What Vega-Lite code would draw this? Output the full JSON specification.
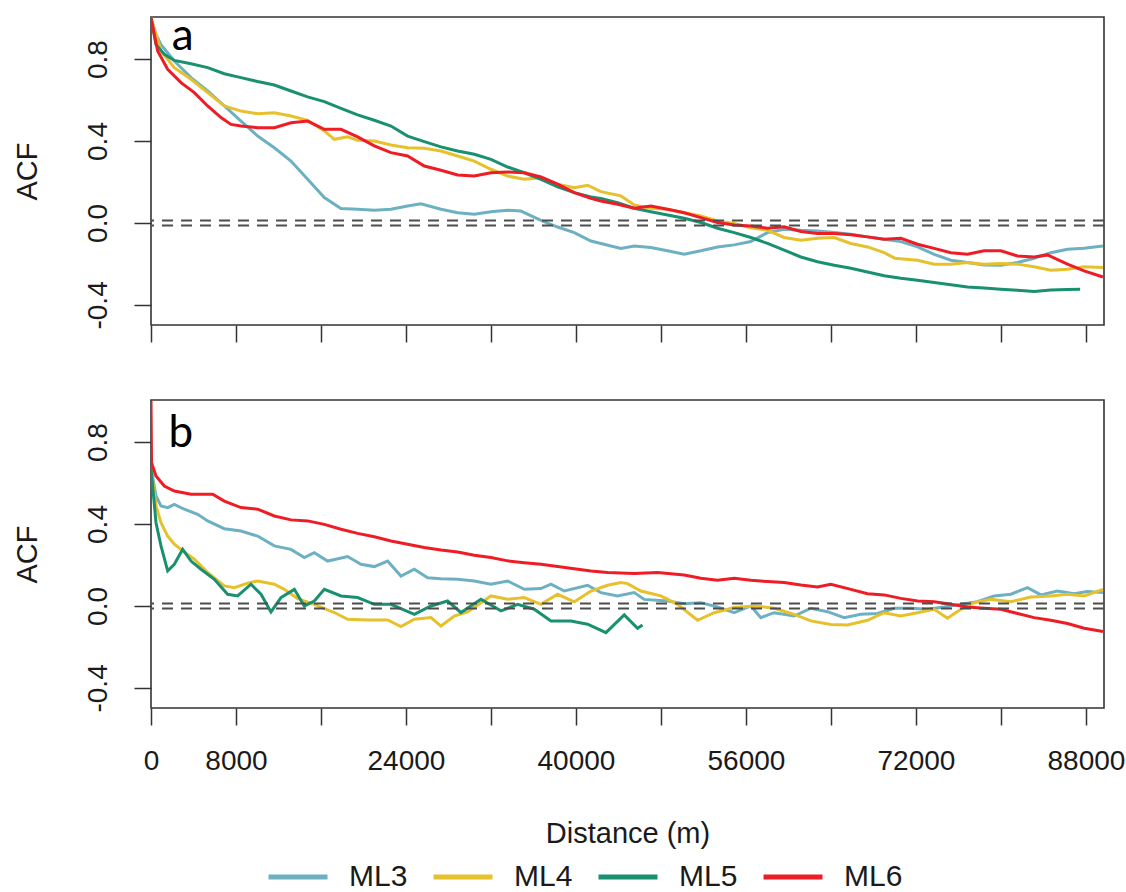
{
  "$schema": "https://vega.github.io/schema/vega-lite/v6.json",
  "background": "white",
  "padding": {"left": 12, "top": 14, "right": 10, "bottom": 5},
  "spacing": 55,
  "config": {
    "font": "Liberation Sans",
    "view": {"stroke": "#333", "strokeWidth": 1.6},
    "axis": {"grid": false, "domain": false, "tickColor": "#333", "tickWidth": 1.5, "tickSize": 17, "labelFontSize": 28, "labelColor": "#1a1a1a", "titleFontSize": 29, "titleFontWeight": "normal", "titleColor": "#1a1a1a", "labelFlush": false, "labelOverlap": false}
  },
  "datasets": {
    "ci": [
      {"panel": "a", "acf": 0.012}, {"panel": "a", "acf": -0.012},
      {"panel": "b", "acf": 0.012}, {"panel": "b", "acf": -0.012}
    ],
    "tags": [
      {"panel": "a", "distance": 2983, "acf": 0.842, "tag": "a"},
      {"panel": "b", "distance": 2795, "acf": 0.777, "tag": "b"}
    ],
    "acf": [
      {"panel":"a","series":"ML3","distance":0,"acf":1.0},{"panel":"a","series":"ML3","distance":470,"acf":0.92},{"panel":"a","series":"ML3","distance":941,"acf":0.87},{"panel":"a","series":"ML3","distance":2196,"acf":0.79},{"panel":"a","series":"ML3","distance":3765,"acf":0.709},{"panel":"a","series":"ML3","distance":5333,"acf":0.644},{"panel":"a","series":"ML3","distance":6902,"acf":0.571},{"panel":"a","series":"ML3","distance":8470,"acf":0.497},{"panel":"a","series":"ML3","distance":10039,"acf":0.424},{"panel":"a","series":"ML3","distance":11607,"acf":0.367},{"panel":"a","series":"ML3","distance":13176,"acf":0.302},{"panel":"a","series":"ML3","distance":14744,"acf":0.213},{"panel":"a","series":"ML3","distance":16313,"acf":0.124},{"panel":"a","series":"ML3","distance":17881,"acf":0.071},{"panel":"a","series":"ML3","distance":19450,"acf":0.067},{"panel":"a","series":"ML3","distance":21018,"acf":0.062},{"panel":"a","series":"ML3","distance":22587,"acf":0.067},{"panel":"a","series":"ML3","distance":24155,"acf":0.083},{"panel":"a","series":"ML3","distance":25410,"acf":0.094},{"panel":"a","series":"ML3","distance":27292,"acf":0.067},{"panel":"a","series":"ML3","distance":28861,"acf":0.05},{"panel":"a","series":"ML3","distance":30429,"acf":0.042},{"panel":"a","series":"ML3","distance":31998,"acf":0.055},{"panel":"a","series":"ML3","distance":33566,"acf":0.062},{"panel":"a","series":"ML3","distance":34821,"acf":0.058},{"panel":"a","series":"ML3","distance":36703,"acf":0.013},{"panel":"a","series":"ML3","distance":38272,"acf":-0.02},{"panel":"a","series":"ML3","distance":39840,"acf":-0.047},{"panel":"a","series":"ML3","distance":41409,"acf":-0.088},{"panel":"a","series":"ML3","distance":42345,"acf":-0.1},{"panel":"a","series":"ML3","distance":44227,"acf":-0.124},{"panel":"a","series":"ML3","distance":45482,"acf":-0.112},{"panel":"a","series":"ML3","distance":47051,"acf":-0.12},{"panel":"a","series":"ML3","distance":48619,"acf":-0.136},{"panel":"a","series":"ML3","distance":50188,"acf":-0.153},{"panel":"a","series":"ML3","distance":51756,"acf":-0.136},{"panel":"a","series":"ML3","distance":53325,"acf":-0.117},{"panel":"a","series":"ML3","distance":54893,"acf":-0.107},{"panel":"a","series":"ML3","distance":56462,"acf":-0.091},{"panel":"a","series":"ML3","distance":58030,"acf":-0.047},{"panel":"a","series":"ML3","distance":59599,"acf":-0.031},{"panel":"a","series":"ML3","distance":61167,"acf":-0.036},{"panel":"a","series":"ML3","distance":62736,"acf":-0.039},{"panel":"a","series":"ML3","distance":64304,"acf":-0.047},{"panel":"a","series":"ML3","distance":65873,"acf":-0.055},{"panel":"a","series":"ML3","distance":67441,"acf":-0.068},{"panel":"a","series":"ML3","distance":69010,"acf":-0.08},{"panel":"a","series":"ML3","distance":70578,"acf":-0.091},{"panel":"a","series":"ML3","distance":72147,"acf":-0.117},{"panel":"a","series":"ML3","distance":73715,"acf":-0.153},{"panel":"a","series":"ML3","distance":75284,"acf":-0.182},{"panel":"a","series":"ML3","distance":76852,"acf":-0.193},{"panel":"a","series":"ML3","distance":78421,"acf":-0.205},{"panel":"a","series":"ML3","distance":79989,"acf":-0.206},{"panel":"a","series":"ML3","distance":81558,"acf":-0.193},{"panel":"a","series":"ML3","distance":83126,"acf":-0.172},{"panel":"a","series":"ML3","distance":84695,"acf":-0.145},{"panel":"a","series":"ML3","distance":86263,"acf":-0.128},{"panel":"a","series":"ML3","distance":87832,"acf":-0.124},{"panel":"a","series":"ML3","distance":89600,"acf":-0.112},
      {"panel":"a","series":"ML4","distance":0,"acf":1.0},{"panel":"a","series":"ML4","distance":941,"acf":0.839},{"panel":"a","series":"ML4","distance":2196,"acf":0.758},{"panel":"a","series":"ML4","distance":3765,"acf":0.701},{"panel":"a","series":"ML4","distance":5333,"acf":0.636},{"panel":"a","series":"ML4","distance":6902,"acf":0.571},{"panel":"a","series":"ML4","distance":8470,"acf":0.546},{"panel":"a","series":"ML4","distance":10039,"acf":0.533},{"panel":"a","series":"ML4","distance":11607,"acf":0.538},{"panel":"a","series":"ML4","distance":13176,"acf":0.522},{"panel":"a","series":"ML4","distance":14744,"acf":0.501},{"panel":"a","series":"ML4","distance":16313,"acf":0.449},{"panel":"a","series":"ML4","distance":17254,"acf":0.408},{"panel":"a","series":"ML4","distance":18509,"acf":0.42},{"panel":"a","series":"ML4","distance":19450,"acf":0.403},{"panel":"a","series":"ML4","distance":21018,"acf":0.4},{"panel":"a","series":"ML4","distance":22587,"acf":0.38},{"panel":"a","series":"ML4","distance":24155,"acf":0.367},{"panel":"a","series":"ML4","distance":25724,"acf":0.364},{"panel":"a","series":"ML4","distance":27292,"acf":0.351},{"panel":"a","series":"ML4","distance":28861,"acf":0.327},{"panel":"a","series":"ML4","distance":30429,"acf":0.302},{"panel":"a","series":"ML4","distance":31998,"acf":0.262},{"panel":"a","series":"ML4","distance":33566,"acf":0.229},{"panel":"a","series":"ML4","distance":35135,"acf":0.213},{"panel":"a","series":"ML4","distance":36703,"acf":0.221},{"panel":"a","series":"ML4","distance":38272,"acf":0.189},{"panel":"a","series":"ML4","distance":39840,"acf":0.172},{"panel":"a","series":"ML4","distance":41095,"acf":0.184},{"panel":"a","series":"ML4","distance":42345,"acf":0.153},{"panel":"a","series":"ML4","distance":44227,"acf":0.132},{"panel":"a","series":"ML4","distance":45482,"acf":0.088},{"panel":"a","series":"ML4","distance":47051,"acf":0.072},{"panel":"a","series":"ML4","distance":48619,"acf":0.067},{"panel":"a","series":"ML4","distance":50188,"acf":0.05},{"panel":"a","series":"ML4","distance":51756,"acf":0.034},{"panel":"a","series":"ML4","distance":53325,"acf":0.01},{"panel":"a","series":"ML4","distance":54893,"acf":-0.003},{"panel":"a","series":"ML4","distance":56462,"acf":-0.023},{"panel":"a","series":"ML4","distance":58030,"acf":-0.036},{"panel":"a","series":"ML4","distance":59599,"acf":-0.071},{"panel":"a","series":"ML4","distance":61167,"acf":-0.084},{"panel":"a","series":"ML4","distance":62736,"acf":-0.075},{"panel":"a","series":"ML4","distance":64304,"acf":-0.071},{"panel":"a","series":"ML4","distance":65873,"acf":-0.1},{"panel":"a","series":"ML4","distance":67441,"acf":-0.117},{"panel":"a","series":"ML4","distance":69010,"acf":-0.145},{"panel":"a","series":"ML4","distance":70013,"acf":-0.172},{"panel":"a","series":"ML4","distance":72147,"acf":-0.182},{"panel":"a","series":"ML4","distance":73715,"acf":-0.201},{"panel":"a","series":"ML4","distance":75284,"acf":-0.201},{"panel":"a","series":"ML4","distance":76852,"acf":-0.193},{"panel":"a","series":"ML4","distance":78421,"acf":-0.201},{"panel":"a","series":"ML4","distance":79989,"acf":-0.198},{"panel":"a","series":"ML4","distance":81558,"acf":-0.201},{"panel":"a","series":"ML4","distance":83126,"acf":-0.214},{"panel":"a","series":"ML4","distance":84695,"acf":-0.231},{"panel":"a","series":"ML4","distance":86263,"acf":-0.226},{"panel":"a","series":"ML4","distance":87832,"acf":-0.214},{"panel":"a","series":"ML4","distance":89600,"acf":-0.218},
      {"panel":"a","series":"ML5","distance":0,"acf":1.0},{"panel":"a","series":"ML5","distance":470,"acf":0.87},{"panel":"a","series":"ML5","distance":1255,"acf":0.823},{"panel":"a","series":"ML5","distance":2196,"acf":0.793},{"panel":"a","series":"ML5","distance":3765,"acf":0.777},{"panel":"a","series":"ML5","distance":5333,"acf":0.758},{"panel":"a","series":"ML5","distance":6902,"acf":0.728},{"panel":"a","series":"ML5","distance":8470,"acf":0.709},{"panel":"a","series":"ML5","distance":10039,"acf":0.69},{"panel":"a","series":"ML5","distance":11607,"acf":0.673},{"panel":"a","series":"ML5","distance":13176,"acf":0.644},{"panel":"a","series":"ML5","distance":14744,"acf":0.615},{"panel":"a","series":"ML5","distance":16313,"acf":0.592},{"panel":"a","series":"ML5","distance":17881,"acf":0.559},{"panel":"a","series":"ML5","distance":19450,"acf":0.527},{"panel":"a","series":"ML5","distance":21018,"acf":0.501},{"panel":"a","series":"ML5","distance":22587,"acf":0.473},{"panel":"a","series":"ML5","distance":24155,"acf":0.424},{"panel":"a","series":"ML5","distance":25724,"acf":0.397},{"panel":"a","series":"ML5","distance":27292,"acf":0.371},{"panel":"a","series":"ML5","distance":28861,"acf":0.351},{"panel":"a","series":"ML5","distance":30429,"acf":0.335},{"panel":"a","series":"ML5","distance":31998,"acf":0.31},{"panel":"a","series":"ML5","distance":33566,"acf":0.273},{"panel":"a","series":"ML5","distance":35135,"acf":0.245},{"panel":"a","series":"ML5","distance":36703,"acf":0.213},{"panel":"a","series":"ML5","distance":38272,"acf":0.176},{"panel":"a","series":"ML5","distance":39840,"acf":0.148},{"panel":"a","series":"ML5","distance":41409,"acf":0.127},{"panel":"a","series":"ML5","distance":42345,"acf":0.12},{"panel":"a","series":"ML5","distance":43914,"acf":0.099},{"panel":"a","series":"ML5","distance":45482,"acf":0.072},{"panel":"a","series":"ML5","distance":47051,"acf":0.055},{"panel":"a","series":"ML5","distance":48619,"acf":0.039},{"panel":"a","series":"ML5","distance":50188,"acf":0.023},{"panel":"a","series":"ML5","distance":51756,"acf":0.002},{"panel":"a","series":"ML5","distance":53325,"acf":-0.026},{"panel":"a","series":"ML5","distance":54893,"acf":-0.047},{"panel":"a","series":"ML5","distance":56462,"acf":-0.071},{"panel":"a","series":"ML5","distance":58030,"acf":-0.1},{"panel":"a","series":"ML5","distance":59599,"acf":-0.133},{"panel":"a","series":"ML5","distance":61167,"acf":-0.166},{"panel":"a","series":"ML5","distance":62736,"acf":-0.189},{"panel":"a","series":"ML5","distance":64304,"acf":-0.206},{"panel":"a","series":"ML5","distance":65873,"acf":-0.221},{"panel":"a","series":"ML5","distance":67441,"acf":-0.239},{"panel":"a","series":"ML5","distance":69010,"acf":-0.258},{"panel":"a","series":"ML5","distance":70578,"acf":-0.27},{"panel":"a","series":"ML5","distance":72147,"acf":-0.28},{"panel":"a","series":"ML5","distance":73715,"acf":-0.291},{"panel":"a","series":"ML5","distance":75284,"acf":-0.302},{"panel":"a","series":"ML5","distance":76852,"acf":-0.312},{"panel":"a","series":"ML5","distance":78421,"acf":-0.318},{"panel":"a","series":"ML5","distance":79989,"acf":-0.323},{"panel":"a","series":"ML5","distance":81558,"acf":-0.328},{"panel":"a","series":"ML5","distance":83126,"acf":-0.335},{"panel":"a","series":"ML5","distance":84695,"acf":-0.327},{"panel":"a","series":"ML5","distance":86263,"acf":-0.325},{"panel":"a","series":"ML5","distance":87455,"acf":-0.323},
      {"panel":"a","series":"ML6","distance":0,"acf":1.0},{"panel":"a","series":"ML6","distance":627,"acf":0.839},{"panel":"a","series":"ML6","distance":1569,"acf":0.75},{"panel":"a","series":"ML6","distance":2824,"acf":0.685},{"panel":"a","series":"ML6","distance":4078,"acf":0.636},{"panel":"a","series":"ML6","distance":5333,"acf":0.571},{"panel":"a","series":"ML6","distance":6588,"acf":0.514},{"panel":"a","series":"ML6","distance":7529,"acf":0.481},{"panel":"a","series":"ML6","distance":8470,"acf":0.473},{"panel":"a","series":"ML6","distance":10039,"acf":0.465},{"panel":"a","series":"ML6","distance":11607,"acf":0.465},{"panel":"a","series":"ML6","distance":13176,"acf":0.489},{"panel":"a","series":"ML6","distance":14744,"acf":0.497},{"panel":"a","series":"ML6","distance":16313,"acf":0.457},{"panel":"a","series":"ML6","distance":17881,"acf":0.457},{"panel":"a","series":"ML6","distance":19450,"acf":0.42},{"panel":"a","series":"ML6","distance":21018,"acf":0.376},{"panel":"a","series":"ML6","distance":22587,"acf":0.343},{"panel":"a","series":"ML6","distance":24155,"acf":0.327},{"panel":"a","series":"ML6","distance":25724,"acf":0.278},{"panel":"a","series":"ML6","distance":27292,"acf":0.257},{"panel":"a","series":"ML6","distance":28861,"acf":0.234},{"panel":"a","series":"ML6","distance":30429,"acf":0.229},{"panel":"a","series":"ML6","distance":31998,"acf":0.245},{"panel":"a","series":"ML6","distance":33566,"acf":0.249},{"panel":"a","series":"ML6","distance":35135,"acf":0.245},{"panel":"a","series":"ML6","distance":36703,"acf":0.224},{"panel":"a","series":"ML6","distance":38272,"acf":0.189},{"panel":"a","series":"ML6","distance":39840,"acf":0.148},{"panel":"a","series":"ML6","distance":41409,"acf":0.12},{"panel":"a","series":"ML6","distance":42345,"acf":0.107},{"panel":"a","series":"ML6","distance":43914,"acf":0.091},{"panel":"a","series":"ML6","distance":45482,"acf":0.072},{"panel":"a","series":"ML6","distance":47051,"acf":0.083},{"panel":"a","series":"ML6","distance":48619,"acf":0.067},{"panel":"a","series":"ML6","distance":50188,"acf":0.05},{"panel":"a","series":"ML6","distance":51756,"acf":0.026},{"panel":"a","series":"ML6","distance":53325,"acf":0.002},{"panel":"a","series":"ML6","distance":54893,"acf":-0.01},{"panel":"a","series":"ML6","distance":56462,"acf":-0.015},{"panel":"a","series":"ML6","distance":58030,"acf":-0.026},{"panel":"a","series":"ML6","distance":59599,"acf":-0.019},{"panel":"a","series":"ML6","distance":61167,"acf":-0.042},{"panel":"a","series":"ML6","distance":62736,"acf":-0.052},{"panel":"a","series":"ML6","distance":64304,"acf":-0.052},{"panel":"a","series":"ML6","distance":65873,"acf":-0.058},{"panel":"a","series":"ML6","distance":67441,"acf":-0.068},{"panel":"a","series":"ML6","distance":69010,"acf":-0.08},{"panel":"a","series":"ML6","distance":70578,"acf":-0.075},{"panel":"a","series":"ML6","distance":72147,"acf":-0.104},{"panel":"a","series":"ML6","distance":73715,"acf":-0.124},{"panel":"a","series":"ML6","distance":75284,"acf":-0.145},{"panel":"a","series":"ML6","distance":76852,"acf":-0.153},{"panel":"a","series":"ML6","distance":78421,"acf":-0.136},{"panel":"a","series":"ML6","distance":79989,"acf":-0.136},{"panel":"a","series":"ML6","distance":81558,"acf":-0.161},{"panel":"a","series":"ML6","distance":83126,"acf":-0.166},{"panel":"a","series":"ML6","distance":84381,"acf":-0.156},{"panel":"a","series":"ML6","distance":86263,"acf":-0.201},{"panel":"a","series":"ML6","distance":87832,"acf":-0.234},{"panel":"a","series":"ML6","distance":89600,"acf":-0.264},
      {"panel":"b","series":"ML3","distance":0,"acf":0.675},{"panel":"b","series":"ML3","distance":471,"acf":0.537},{"panel":"b","series":"ML3","distance":941,"acf":0.488},{"panel":"b","series":"ML3","distance":1569,"acf":0.48},{"panel":"b","series":"ML3","distance":2196,"acf":0.496},{"panel":"b","series":"ML3","distance":3137,"acf":0.472},{"panel":"b","series":"ML3","distance":4392,"acf":0.447},{"panel":"b","series":"ML3","distance":5333,"acf":0.415},{"panel":"b","series":"ML3","distance":6902,"acf":0.377},{"panel":"b","series":"ML3","distance":8470,"acf":0.366},{"panel":"b","series":"ML3","distance":10039,"acf":0.341},{"panel":"b","series":"ML3","distance":11607,"acf":0.293},{"panel":"b","series":"ML3","distance":13176,"acf":0.276},{"panel":"b","series":"ML3","distance":14430,"acf":0.236},{"panel":"b","series":"ML3","distance":15371,"acf":0.26},{"panel":"b","series":"ML3","distance":16626,"acf":0.219},{"panel":"b","series":"ML3","distance":18508,"acf":0.241},{"panel":"b","series":"ML3","distance":19763,"acf":0.203},{"panel":"b","series":"ML3","distance":21018,"acf":0.192},{"panel":"b","series":"ML3","distance":22273,"acf":0.219},{"panel":"b","series":"ML3","distance":23528,"acf":0.146},{"panel":"b","series":"ML3","distance":24783,"acf":0.179},{"panel":"b","series":"ML3","distance":26038,"acf":0.138},{"panel":"b","series":"ML3","distance":27292,"acf":0.133},{"panel":"b","series":"ML3","distance":28861,"acf":0.13},{"panel":"b","series":"ML3","distance":30429,"acf":0.122},{"panel":"b","series":"ML3","distance":31998,"acf":0.106},{"panel":"b","series":"ML3","distance":33566,"acf":0.122},{"panel":"b","series":"ML3","distance":35135,"acf":0.081},{"panel":"b","series":"ML3","distance":36703,"acf":0.085},{"panel":"b","series":"ML3","distance":37644,"acf":0.106},{"panel":"b","series":"ML3","distance":38899,"acf":0.073},{"panel":"b","series":"ML3","distance":41095,"acf":0.101},{"panel":"b","series":"ML3","distance":42345,"acf":0.065},{"panel":"b","series":"ML3","distance":43914,"acf":0.049},{"panel":"b","series":"ML3","distance":45482,"acf":0.065},{"panel":"b","series":"ML3","distance":46423,"acf":0.032},{"panel":"b","series":"ML3","distance":48619,"acf":0.024},{"panel":"b","series":"ML3","distance":50188,"acf":0.011},{"panel":"b","series":"ML3","distance":51756,"acf":0.016},{"panel":"b","series":"ML3","distance":53325,"acf":-0.005},{"panel":"b","series":"ML3","distance":54893,"acf":-0.033},{"panel":"b","series":"ML3","distance":56462,"acf":0.0},{"panel":"b","series":"ML3","distance":57402,"acf":-0.057},{"panel":"b","series":"ML3","distance":58657,"acf":-0.033},{"panel":"b","series":"ML3","distance":60539,"acf":-0.049},{"panel":"b","series":"ML3","distance":62108,"acf":-0.011},{"panel":"b","series":"ML3","distance":63676,"acf":-0.028},{"panel":"b","series":"ML3","distance":65245,"acf":-0.057},{"panel":"b","series":"ML3","distance":66813,"acf":-0.041},{"panel":"b","series":"ML3","distance":68382,"acf":-0.037},{"panel":"b","series":"ML3","distance":69950,"acf":-0.011},{"panel":"b","series":"ML3","distance":71519,"acf":-0.011},{"panel":"b","series":"ML3","distance":73087,"acf":-0.016},{"panel":"b","series":"ML3","distance":74656,"acf":-0.005},{"panel":"b","series":"ML3","distance":76225,"acf":0.008},{"panel":"b","series":"ML3","distance":77793,"acf":0.021},{"panel":"b","series":"ML3","distance":79362,"acf":0.049},{"panel":"b","series":"ML3","distance":80930,"acf":0.057},{"panel":"b","series":"ML3","distance":82499,"acf":0.089},{"panel":"b","series":"ML3","distance":83754,"acf":0.054},{"panel":"b","series":"ML3","distance":85323,"acf":0.073},{"panel":"b","series":"ML3","distance":86891,"acf":0.06},{"panel":"b","series":"ML3","distance":88145,"acf":0.07},{"panel":"b","series":"ML3","distance":89600,"acf":0.065},
      {"panel":"b","series":"ML4","distance":0,"acf":0.675},{"panel":"b","series":"ML4","distance":471,"acf":0.488},{"panel":"b","series":"ML4","distance":941,"acf":0.406},{"panel":"b","series":"ML4","distance":1569,"acf":0.341},{"panel":"b","series":"ML4","distance":2196,"acf":0.301},{"panel":"b","series":"ML4","distance":3137,"acf":0.263},{"panel":"b","series":"ML4","distance":4078,"acf":0.228},{"panel":"b","series":"ML4","distance":5333,"acf":0.163},{"panel":"b","series":"ML4","distance":6902,"acf":0.098},{"panel":"b","series":"ML4","distance":7843,"acf":0.089},{"panel":"b","series":"ML4","distance":9097,"acf":0.111},{"panel":"b","series":"ML4","distance":10039,"acf":0.122},{"panel":"b","series":"ML4","distance":11607,"acf":0.106},{"panel":"b","series":"ML4","distance":12548,"acf":0.081},{"panel":"b","series":"ML4","distance":13803,"acf":0.036},{"panel":"b","series":"ML4","distance":15371,"acf":0.008},{"panel":"b","series":"ML4","distance":17253,"acf":-0.032},{"panel":"b","series":"ML4","distance":18508,"acf":-0.065},{"panel":"b","series":"ML4","distance":20390,"acf":-0.068},{"panel":"b","series":"ML4","distance":22273,"acf":-0.068},{"panel":"b","series":"ML4","distance":23528,"acf":-0.101},{"panel":"b","series":"ML4","distance":24783,"acf":-0.065},{"panel":"b","series":"ML4","distance":26352,"acf":-0.057},{"panel":"b","series":"ML4","distance":27292,"acf":-0.098},{"panel":"b","series":"ML4","distance":28547,"acf":-0.049},{"panel":"b","series":"ML4","distance":29802,"acf":-0.029},{"panel":"b","series":"ML4","distance":31998,"acf":0.049},{"panel":"b","series":"ML4","distance":33566,"acf":0.033},{"panel":"b","series":"ML4","distance":35135,"acf":0.041},{"panel":"b","series":"ML4","distance":36703,"acf":0.008},{"panel":"b","series":"ML4","distance":38272,"acf":0.057},{"panel":"b","series":"ML4","distance":39840,"acf":0.02},{"panel":"b","series":"ML4","distance":41409,"acf":0.073},{"panel":"b","series":"ML4","distance":42977,"acf":0.101},{"panel":"b","series":"ML4","distance":44232,"acf":0.114},{"panel":"b","series":"ML4","distance":44854,"acf":0.109},{"panel":"b","series":"ML4","distance":46109,"acf":0.073},{"panel":"b","series":"ML4","distance":47992,"acf":0.049},{"panel":"b","series":"ML4","distance":49560,"acf":0.008},{"panel":"b","series":"ML4","distance":51443,"acf":-0.07},{"panel":"b","series":"ML4","distance":53011,"acf":-0.033},{"panel":"b","series":"ML4","distance":54893,"acf":-0.008},{"panel":"b","series":"ML4","distance":56775,"acf":0.0},{"panel":"b","series":"ML4","distance":58657,"acf":-0.011},{"panel":"b","series":"ML4","distance":60539,"acf":-0.041},{"panel":"b","series":"ML4","distance":62108,"acf":-0.073},{"panel":"b","series":"ML4","distance":63990,"acf":-0.09},{"panel":"b","series":"ML4","distance":65559,"acf":-0.093},{"panel":"b","series":"ML4","distance":67441,"acf":-0.07},{"panel":"b","series":"ML4","distance":69010,"acf":-0.033},{"panel":"b","series":"ML4","distance":70578,"acf":-0.049},{"panel":"b","series":"ML4","distance":72147,"acf":-0.033},{"panel":"b","series":"ML4","distance":73715,"acf":-0.016},{"panel":"b","series":"ML4","distance":74970,"acf":-0.06},{"panel":"b","series":"ML4","distance":76225,"acf":-0.016},{"panel":"b","series":"ML4","distance":77480,"acf":0.016},{"panel":"b","series":"ML4","distance":79048,"acf":0.032},{"panel":"b","series":"ML4","distance":80930,"acf":0.021},{"panel":"b","series":"ML4","distance":82813,"acf":0.044},{"panel":"b","series":"ML4","distance":84695,"acf":0.049},{"panel":"b","series":"ML4","distance":86263,"acf":0.057},{"panel":"b","series":"ML4","distance":87832,"acf":0.049},{"panel":"b","series":"ML4","distance":89600,"acf":0.081},
      {"panel":"b","series":"ML5","distance":0,"acf":0.675},{"panel":"b","series":"ML5","distance":471,"acf":0.406},{"panel":"b","series":"ML5","distance":941,"acf":0.293},{"panel":"b","series":"ML5","distance":1569,"acf":0.171},{"panel":"b","series":"ML5","distance":2196,"acf":0.203},{"panel":"b","series":"ML5","distance":2980,"acf":0.276},{"panel":"b","series":"ML5","distance":3765,"acf":0.219},{"panel":"b","series":"ML5","distance":4706,"acf":0.179},{"panel":"b","series":"ML5","distance":5960,"acf":0.13},{"panel":"b","series":"ML5","distance":7215,"acf":0.057},{"panel":"b","series":"ML5","distance":8156,"acf":0.049},{"panel":"b","series":"ML5","distance":9411,"acf":0.106},{"panel":"b","series":"ML5","distance":10352,"acf":0.057},{"panel":"b","series":"ML5","distance":11293,"acf":-0.029},{"panel":"b","series":"ML5","distance":12234,"acf":0.041},{"panel":"b","series":"ML5","distance":13490,"acf":0.081},{"panel":"b","series":"ML5","distance":14430,"acf":0.0},{"panel":"b","series":"ML5","distance":15371,"acf":0.024},{"panel":"b","series":"ML5","distance":16313,"acf":0.081},{"panel":"b","series":"ML5","distance":17881,"acf":0.049},{"panel":"b","series":"ML5","distance":19450,"acf":0.041},{"panel":"b","series":"ML5","distance":21018,"acf":0.008},{"panel":"b","series":"ML5","distance":22587,"acf":0.008},{"panel":"b","series":"ML5","distance":24783,"acf":-0.041},{"panel":"b","series":"ML5","distance":26352,"acf":0.0},{"panel":"b","series":"ML5","distance":27919,"acf":0.024},{"panel":"b","series":"ML5","distance":29174,"acf":-0.032},{"panel":"b","series":"ML5","distance":31057,"acf":0.033},{"panel":"b","series":"ML5","distance":32939,"acf":-0.024},{"panel":"b","series":"ML5","distance":34508,"acf":0.008},{"panel":"b","series":"ML5","distance":36076,"acf":-0.016},{"panel":"b","series":"ML5","distance":37644,"acf":-0.073},{"panel":"b","series":"ML5","distance":39527,"acf":-0.073},{"panel":"b","series":"ML5","distance":41095,"acf":-0.089},{"panel":"b","series":"ML5","distance":42821,"acf":-0.13},{"panel":"b","series":"ML5","distance":44541,"acf":-0.044},{"panel":"b","series":"ML5","distance":45796,"acf":-0.109},{"panel":"b","series":"ML5","distance":46266,"acf":-0.093},
      {"panel":"b","series":"ML6","distance":0,"acf":1.0},{"panel":"b","series":"ML6","distance":50,"acf":0.699},{"panel":"b","series":"ML6","distance":471,"acf":0.634},{"panel":"b","series":"ML6","distance":1255,"acf":0.585},{"panel":"b","series":"ML6","distance":2196,"acf":0.561},{"panel":"b","series":"ML6","distance":3765,"acf":0.545},{"panel":"b","series":"ML6","distance":5804,"acf":0.545},{"panel":"b","series":"ML6","distance":6902,"acf":0.512},{"panel":"b","series":"ML6","distance":8470,"acf":0.48},{"panel":"b","series":"ML6","distance":10039,"acf":0.472},{"panel":"b","series":"ML6","distance":11607,"acf":0.439},{"panel":"b","series":"ML6","distance":13176,"acf":0.42},{"panel":"b","series":"ML6","distance":14744,"acf":0.415},{"panel":"b","series":"ML6","distance":16313,"acf":0.398},{"panel":"b","series":"ML6","distance":17881,"acf":0.374},{"panel":"b","series":"ML6","distance":19450,"acf":0.354},{"panel":"b","series":"ML6","distance":21018,"acf":0.338},{"panel":"b","series":"ML6","distance":22587,"acf":0.317},{"panel":"b","series":"ML6","distance":24155,"acf":0.301},{"panel":"b","series":"ML6","distance":25724,"acf":0.285},{"panel":"b","series":"ML6","distance":27292,"acf":0.273},{"panel":"b","series":"ML6","distance":28861,"acf":0.263},{"panel":"b","series":"ML6","distance":30429,"acf":0.247},{"panel":"b","series":"ML6","distance":31998,"acf":0.236},{"panel":"b","series":"ML6","distance":33566,"acf":0.22},{"panel":"b","series":"ML6","distance":35135,"acf":0.211},{"panel":"b","series":"ML6","distance":36703,"acf":0.203},{"panel":"b","series":"ML6","distance":38272,"acf":0.192},{"panel":"b","series":"ML6","distance":39840,"acf":0.182},{"panel":"b","series":"ML6","distance":41409,"acf":0.171},{"panel":"b","series":"ML6","distance":42977,"acf":0.163},{"panel":"b","series":"ML6","distance":45482,"acf":0.158},{"panel":"b","series":"ML6","distance":47678,"acf":0.163},{"panel":"b","series":"ML6","distance":50188,"acf":0.151},{"panel":"b","series":"ML6","distance":51756,"acf":0.135},{"panel":"b","series":"ML6","distance":53325,"acf":0.125},{"panel":"b","series":"ML6","distance":54893,"acf":0.135},{"panel":"b","series":"ML6","distance":56462,"acf":0.125},{"panel":"b","series":"ML6","distance":58030,"acf":0.119},{"panel":"b","series":"ML6","distance":59599,"acf":0.114},{"panel":"b","series":"ML6","distance":61167,"acf":0.102},{"panel":"b","series":"ML6","distance":62736,"acf":0.093},{"panel":"b","series":"ML6","distance":63990,"acf":0.106},{"panel":"b","series":"ML6","distance":65873,"acf":0.081},{"panel":"b","series":"ML6","distance":67441,"acf":0.06},{"panel":"b","series":"ML6","distance":69010,"acf":0.054},{"panel":"b","series":"ML6","distance":70578,"acf":0.037},{"panel":"b","series":"ML6","distance":72147,"acf":0.024},{"panel":"b","series":"ML6","distance":73715,"acf":0.021},{"panel":"b","series":"ML6","distance":75284,"acf":0.008},{"panel":"b","series":"ML6","distance":76852,"acf":-0.005},{"panel":"b","series":"ML6","distance":78421,"acf":-0.011},{"panel":"b","series":"ML6","distance":79989,"acf":-0.016},{"panel":"b","series":"ML6","distance":81558,"acf":-0.037},{"panel":"b","series":"ML6","distance":83126,"acf":-0.057},{"panel":"b","series":"ML6","distance":84695,"acf":-0.07},{"panel":"b","series":"ML6","distance":86263,"acf":-0.086},{"panel":"b","series":"ML6","distance":87832,"acf":-0.109},{"panel":"b","series":"ML6","distance":89600,"acf":-0.125}
    ]
  },
  "vconcat": [
    {
      "width": 953, "height": 308,
      "layer": [
        {
          "data": {"name": "acf"},
          "transform": [{"filter": "datum.panel === 'a'"}],
          "mark": {"type": "line", "strokeWidth": 3, "clip": true},
          "encoding": {
            "x": {"field": "distance", "type": "quantitative", "scale": {"domain": [0, 89700], "nice": false, "zero": false},
                  "axis": {"values": [0,8000,16000,24000,32000,40000,48000,56000,64000,72000,80000,88000], "labels": false, "title": null}},
            "y": {"field": "acf", "type": "quantitative", "scale": {"domain": [-0.498, 1.005], "nice": false, "zero": false},
                  "axis": {"values": [-0.4, 0, 0.4, 0.8], "labelExpr": "datum.value < 0 ? '-' + format(abs(datum.value), '.1f') : format(datum.value, '.1f')", "labelAngle": 270, "labelAlign": "center", "labelBaseline": "middle", "labelPadding": 36, "title": "ACF", "titleAngle": 270, "titleX": -124, "titleY": 154, "titleAlign": "center", "titleBaseline": "middle"}},
            "color": {"field": "series", "type": "nominal",
                      "scale": {"domain": ["ML3", "ML4", "ML5", "ML6"], "range": ["#6db0c2", "#e6c12c", "#19906f", "#ee1c25"]},
                      "legend": {"orient": "none", "legendX": 115, "legendY": 828, "direction": "horizontal", "title": null, "symbolType": "stroke", "symbolSize": 3481, "symbolStrokeWidth": 5, "labelFontSize": 30, "labelColor": "#1a1a1a", "labelOffset": 19, "columnPadding": 15, "padding": 0}}
          }
        },
        {
          "data": {"name": "ci"},
          "transform": [{"filter": "datum.panel === 'a'"}],
          "mark": {"type": "rule", "color": "#4d4d4d", "strokeWidth": 2, "strokeDash": [11, 8]},
          "encoding": {
            "y": {"field": "acf", "type": "quantitative", "scale": {"domain": [-0.498, 1.005], "nice": false, "zero": false}}
          }
        },
        {
          "data": {"name": "tags"},
          "transform": [{"filter": "datum.panel === 'a'"}],
          "mark": {"type": "text", "font": "Lato", "fontSize": 44, "align": "center", "baseline": "alphabetic", "color": "#000"},
          "encoding": {
            "x": {"field": "distance", "type": "quantitative", "scale": {"domain": [0, 89700], "nice": false, "zero": false}},
            "y": {"field": "acf", "type": "quantitative", "scale": {"domain": [-0.498, 1.005], "nice": false, "zero": false}},
            "text": {"field": "tag"}
          }
        }
      ]
    },
    {
      "width": 953, "height": 308,
      "layer": [
        {
          "data": {"name": "acf"},
          "transform": [{"filter": "datum.panel === 'b'"}],
          "mark": {"type": "line", "strokeWidth": 3, "clip": true},
          "encoding": {
            "x": {"field": "distance", "type": "quantitative", "scale": {"domain": [0, 89700], "nice": false, "zero": false},
                  "axis": {"values": [0,8000,16000,24000,32000,40000,48000,56000,64000,72000,80000,88000], "format": "d", "labelExpr": "(datum.value == 0 || datum.value % 16000 == 8000) ? datum.label : ''", "labelPadding": 22, "title": "Distance (m)", "titleY": 125, "titleBaseline": "middle"}},
            "y": {"field": "acf", "type": "quantitative", "scale": {"domain": [-0.498, 1.005], "nice": false, "zero": false},
                  "axis": {"values": [-0.4, 0, 0.4, 0.8], "labelExpr": "datum.value < 0 ? '-' + format(abs(datum.value), '.1f') : format(datum.value, '.1f')", "labelAngle": 270, "labelAlign": "center", "labelBaseline": "middle", "labelPadding": 36, "title": "ACF", "titleAngle": 270, "titleX": -124, "titleY": 154, "titleAlign": "center", "titleBaseline": "middle"}},
            "color": {"field": "series", "type": "nominal",
                      "scale": {"domain": ["ML3", "ML4", "ML5", "ML6"], "range": ["#6db0c2", "#e6c12c", "#19906f", "#ee1c25"]},
                      "legend": {"orient": "none", "legendX": 115, "legendY": 828, "direction": "horizontal", "title": null, "symbolType": "stroke", "symbolSize": 3481, "symbolStrokeWidth": 5, "labelFontSize": 30, "labelColor": "#1a1a1a", "labelOffset": 19, "columnPadding": 15, "padding": 0}}
          }
        },
        {
          "data": {"name": "ci"},
          "transform": [{"filter": "datum.panel === 'b'"}],
          "mark": {"type": "rule", "color": "#4d4d4d", "strokeWidth": 2, "strokeDash": [11, 8]},
          "encoding": {
            "y": {"field": "acf", "type": "quantitative", "scale": {"domain": [-0.498, 1.005], "nice": false, "zero": false}}
          }
        },
        {
          "data": {"name": "tags"},
          "transform": [{"filter": "datum.panel === 'b'"}],
          "mark": {"type": "text", "font": "Lato", "fontSize": 44, "align": "center", "baseline": "alphabetic", "color": "#000"},
          "encoding": {
            "x": {"field": "distance", "type": "quantitative", "scale": {"domain": [0, 89700], "nice": false, "zero": false}},
            "y": {"field": "acf", "type": "quantitative", "scale": {"domain": [-0.498, 1.005], "nice": false, "zero": false}},
            "text": {"field": "tag"}
          }
        }
      ]
    }
  ]
}
